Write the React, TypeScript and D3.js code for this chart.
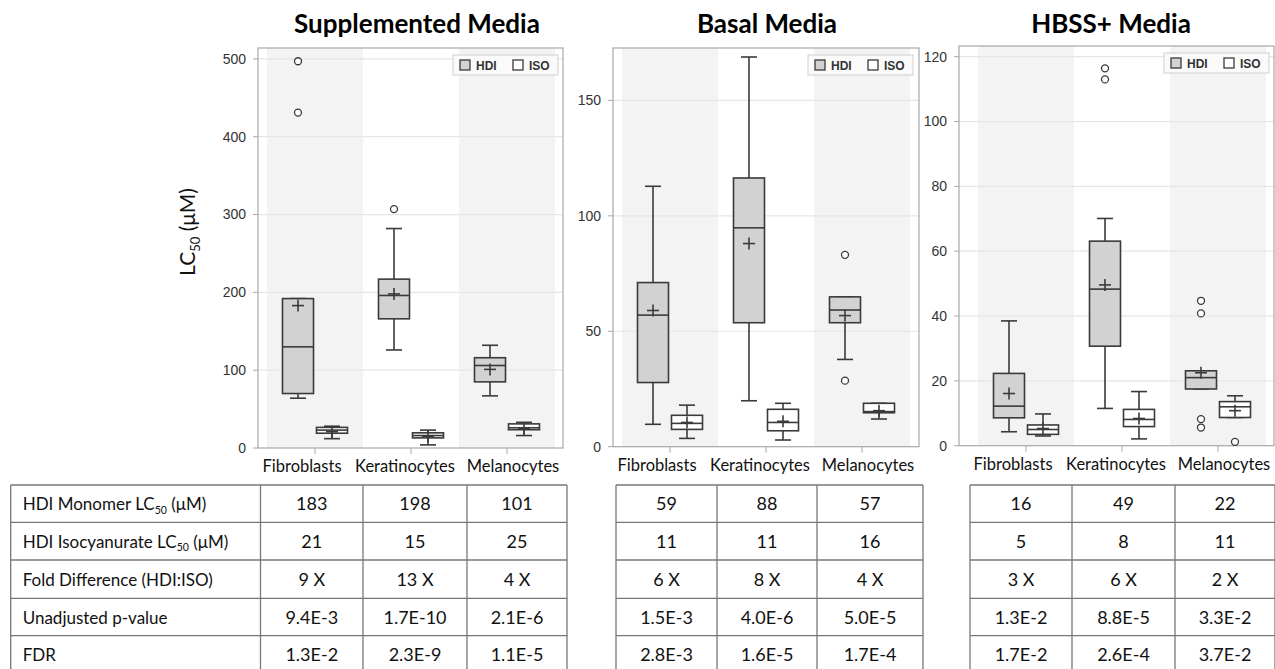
import React from 'react';
import * as d3 from 'd3';

const categories = ['Fibroblasts', 'Keratinocytes', 'Melanocytes'];
const groups = ['HDI', 'ISO'];
const mediaTitles = ['Supplemented Media', 'Basal Media', 'HBSS+ Media'];

// box stats per category: [lowWhisker, q1, median, q3, highWhisker, mean]
const supplementedHDI = [[64, 70, 130, 192, 192, 183], [126, 166, 196, 217, 282, 198], [67, 85, 106, 116, 132, 101]];
const supplementedISO = [[12, 19, 23, 26.5, 28, 21], [4, 13, 16, 19.5, 23, 15], [16, 23.5, 26, 31, 33, 25]];
const supplementedOutHDI = [[431, 497], [307], []];
const supplementedOutISO = [[], [], []];

const basalHDI = [[9.7, 27.8, 57, 71.1, 112.8, 59], [19.9, 53.7, 94.8, 116.4, 168.8, 88], [37.8, 53.7, 59.2, 64.9, 64.9, 56.8]];
const basalISO = [[3.6, 7.5, 10.1, 13.6, 18, 10.5], [2.9, 6.9, 10.5, 16.2, 18.8, 11], [12, 14.7, 15.2, 18.8, 18.8, 15.6]];
const basalOutHDI = [[], [], [83.1, 28.6]];
const basalOutISO = [[], [], []];

const hbssHDI = [[4.3, 8.6, 12.2, 22.3, 38.5, 16.1], [11.5, 30.7, 48.3, 63.1, 70.1, 49.6], [17.5, 17.5, 21, 23.1, 23.1, 22.5]];
const hbssISO = [[3.0, 3.5, 5.0, 6.4, 9.8, 5.3], [2.1, 5.9, 8.1, 11.2, 16.7, 8.4], [8.7, 8.7, 12, 13.6, 15.4, 10.8]];
const hbssOutHDI = [[], [113, 116.4], [44.7, 40.8, 8.2, 5.6]];
const hbssOutISO = [[], [], [1.2]];

const ticksSupplemented = [0, 100, 200, 300, 400, 500];
const ticksBasal = [0, 50, 100, 150];
const ticksHbss = [0, 20, 40, 60, 80, 100, 120];

const tableRowLabels = ['HDI Monomer LC50 (μM)', 'HDI Isocyanurate LC50 (μM)', 'Fold Difference  (HDI:ISO)', 'Unadjusted p-value', 'FDR'];
const supplementedTable = [['183', '198', '101'], ['21', '15', '25'], ['9 X', '13 X', '4 X'], ['9.4E-3', '1.7E-10', '2.1E-6'], ['1.3E-2', '2.3E-9', '1.1E-5']];
const basalTable = [['59', '88', '57'], ['11', '11', '16'], ['6 X', '8 X', '4 X'], ['1.5E-3', '4.0E-6', '5.0E-5'], ['2.8E-3', '1.6E-5', '1.7E-4']];
const hbssTable = [['16', '49', '22'], ['5', '8', '11'], ['3 X', '6 X', '2 X'], ['1.3E-2', '8.8E-5', '3.3E-2'], ['1.7E-2', '2.6E-4', '3.7E-2']];

// layout (pixels)
const panelLayouts = [
  { fx0: 258, fx1: 563, top: 48, bx0: 267, bx1: 555, yBottom: 448, yMax: 514, legendX: 453, legendY: 55, titleX: 417 },
  { fx0: 613, fx1: 919, top: 48, bx0: 622, bx1: 910, yBottom: 446.7, yMax: 172.7, legendX: 808, legendY: 55, titleX: 767 },
  { fx0: 959, fx1: 1274, top: 46, bx0: 978, bx1: 1266, yBottom: 445.7, yMax: 123.3, legendX: 1164, legendY: 53, titleX: 1111 },
];
const labelShift = [-13, -6, 6];
const tableCols = [[10.7, 260.5, 363, 467, 567], [616, 717, 817, 923], [970, 1072, 1175, 1275]];
const tableRows = [485, 522.3, 560, 598.3, 635.7, 673];

const BOX_STROKE = '#3a3a3a';
const HDI_FILL = '#d2d2d2';
const SANS = 'Lato, "Open Sans", sans-serif';
const AXIS_FONT = '"Liberation Sans", Arial, sans-serif';

function LabelWithSub({ text, x, y, size, anchor, transform }: any) {
  const parts = text.split('LC50');
  if (parts.length < 2) {
    return <text x={x} y={y} fontSize={size} textAnchor={anchor} transform={transform} fontFamily={SANS} fill="#111">{text}</text>;
  }
  return (
    <text x={x} y={y} fontSize={size} textAnchor={anchor} transform={transform} fontFamily={SANS} fill="#111">
      {parts[0]}LC
      <tspan fontSize={size * 0.62} dy={size * 0.22}>50</tspan>
      <tspan dy={-size * 0.22}>{parts[1]}</tspan>
    </text>
  );
}

function Panel({ layout, title, hdi, iso, outHdi, outIso, ticks }: any) {
  const y = d3.scaleLinear().domain([0, layout.yMax]).range([layout.yBottom, layout.top]);
  const xb = d3.scaleBand().domain(categories).range([layout.bx0, layout.bx1]).paddingInner(0).paddingOuter(0);
  const off = d3.scalePoint().domain(groups).range([-17, 17]);
  const bw = 31;
  const cap = 16;
  const series = [
    { g: 'HDI', stats: hdi, outs: outHdi, fill: HDI_FILL },
    { g: 'ISO', stats: iso, outs: outIso, fill: '#ffffff' },
  ];
  return (
    <g>
      <text x={layout.titleX} y={33} textAnchor="middle" fontFamily={SANS} fontWeight={700} fontSize={26} fill="#000">{title}</text>
      {categories.map((c, i) => (i % 2 === 0 ? (
        <rect key={c} x={xb(c)} y={layout.top} width={xb.bandwidth()} height={layout.yBottom - layout.top} fill="#f3f3f3" />
      ) : null))}
      {ticks.filter((t: number) => t > 0).map((t: number) => (
        <line key={t} x1={layout.fx0} x2={layout.fx1} y1={y(t)} y2={y(t)} stroke="#e6e6e6" strokeWidth={1.2} />
      ))}
      <rect x={layout.fx0} y={layout.top} width={layout.fx1 - layout.fx0} height={layout.yBottom - layout.top} fill="none" stroke="#a8a8a8" strokeWidth={1.2} />
      {ticks.map((t: number) => (
        <g key={t}>
          <line x1={layout.fx0 - 5} x2={layout.fx0} y1={y(t)} y2={y(t)} stroke="#a8a8a8" />
          <text x={layout.fx0 - 12} y={y(t)} dy="0.35em" textAnchor="end" fontFamily={AXIS_FONT} fontSize={14} fill="#333">{t}</text>
        </g>
      ))}
      {categories.map((c, i) => {
        const cx = (xb(c) as number) + xb.bandwidth() / 2;
        return (
          <g key={c}>
            <line x1={cx} x2={cx} y1={layout.yBottom} y2={layout.yBottom + 6} stroke="#a8a8a8" />
            <text x={cx + labelShift[i]} y={layout.yBottom + 24} textAnchor="middle" fontFamily={SANS} fontSize={16.5} fill="#111">{c}</text>
          </g>
        );
      })}
      {series.map((s) => categories.map((c, i) => {
        const cx = (xb(c) as number) + xb.bandwidth() / 2 + (off(s.g) as number);
        const [lo, q1, med, q3, hi, mean] = s.stats[i];
        return (
          <g key={s.g + c} stroke={BOX_STROKE} strokeWidth={1.6} fill="none">
            <line x1={cx} x2={cx} y1={y(hi)} y2={y(q3)} />
            <line x1={cx} x2={cx} y1={y(q1)} y2={y(lo)} />
            <line x1={cx - cap / 2} x2={cx + cap / 2} y1={y(hi)} y2={y(hi)} />
            <line x1={cx - cap / 2} x2={cx + cap / 2} y1={y(lo)} y2={y(lo)} />
            <rect x={cx - bw / 2} y={y(q3)} width={bw} height={Math.max(0.5, y(q1) - y(q3))} fill={s.fill} />
            <line x1={cx - bw / 2} x2={cx + bw / 2} y1={y(med)} y2={y(med)} />
            <line x1={cx - 6} x2={cx + 6} y1={y(mean)} y2={y(mean)} />
            <line x1={cx} x2={cx} y1={y(mean) - 6} y2={y(mean) + 6} />
            {s.outs[i].map((o: number, j: number) => (
              <circle key={j} cx={cx} cy={y(o)} r={3.5} strokeWidth={1.3} fill="#fff" />
            ))}
          </g>
        );
      }))}
      <g>
        <rect x={layout.legendX} y={layout.legendY} width={105} height={20} fill="#fafafa" stroke="#d0d0d0" />
        {groups.map((g, i) => (
          <g key={g}>
            <rect x={layout.legendX + 7 + i * 53} y={layout.legendY + 5} width={10} height={10} fill={g === 'HDI' ? HDI_FILL : '#fff'} stroke={BOX_STROKE} strokeWidth={1.3} />
            <text x={layout.legendX + 23 + i * 53} y={layout.legendY + 14.5} fontFamily={AXIS_FONT} fontWeight={700} fontSize={12} fill="#333">{g}</text>
          </g>
        ))}
      </g>
    </g>
  );
}

function Table({ cols, values, withLabels }: any) {
  const x0 = cols[0];
  const x1 = cols[cols.length - 1];
  const valueCols = withLabels ? cols.slice(1) : cols;
  return (
    <g>
      {tableRows.map((ry) => (
        <line key={ry} x1={x0} x2={x1} y1={ry} y2={ry} stroke="#777" strokeWidth={1.3} />
      ))}
      {cols.map((cx: number) => (
        <line key={cx} x1={cx} x2={cx} y1={tableRows[0]} y2={tableRows[tableRows.length - 1]} stroke="#777" strokeWidth={1.3} />
      ))}
      {values.map((row: string[], r: number) => {
        const cy = (tableRows[r] + tableRows[r + 1]) / 2 + 6.5;
        return (
          <g key={r}>
            {withLabels ? <LabelWithSub text={tableRowLabels[r]} x={x0 + 12} y={cy} size={17} anchor="start" /> : null}
            {row.map((v, c) => (
              <text key={c} x={(valueCols[c] + valueCols[c + 1]) / 2} y={cy} textAnchor="middle" fontFamily={SANS} fontSize={18} fill="#111">{v}</text>
            ))}
          </g>
        );
      })}
    </g>
  );
}

export default function App() {
  const panelData = [
    { hdi: supplementedHDI, iso: supplementedISO, outHdi: supplementedOutHDI, outIso: supplementedOutISO, ticks: ticksSupplemented },
    { hdi: basalHDI, iso: basalISO, outHdi: basalOutHDI, outIso: basalOutISO, ticks: ticksBasal },
    { hdi: hbssHDI, iso: hbssISO, outHdi: hbssOutHDI, outIso: hbssOutISO, ticks: ticksHbss },
  ];
  const tables = [supplementedTable, basalTable, hbssTable];
  return (
    <svg width={1275} height={669} style={{ position: 'absolute', left: 0, top: 0, background: '#fff' }}>
      <rect x={0} y={0} width={1275} height={669} fill="#fff" />
      {panelData.map((p, i) => (
        <Panel key={i} layout={panelLayouts[i]} title={mediaTitles[i]} {...p} />
      ))}
      <LabelWithSub text="LC50 (μM)" x={0} y={0} size={21} anchor="middle" transform="translate(195,232) rotate(-90)" />
      {tables.map((t, i) => (
        <Table key={i} cols={tableCols[i]} values={t} withLabels={i === 0} />
      ))}
    </svg>
  );
}
